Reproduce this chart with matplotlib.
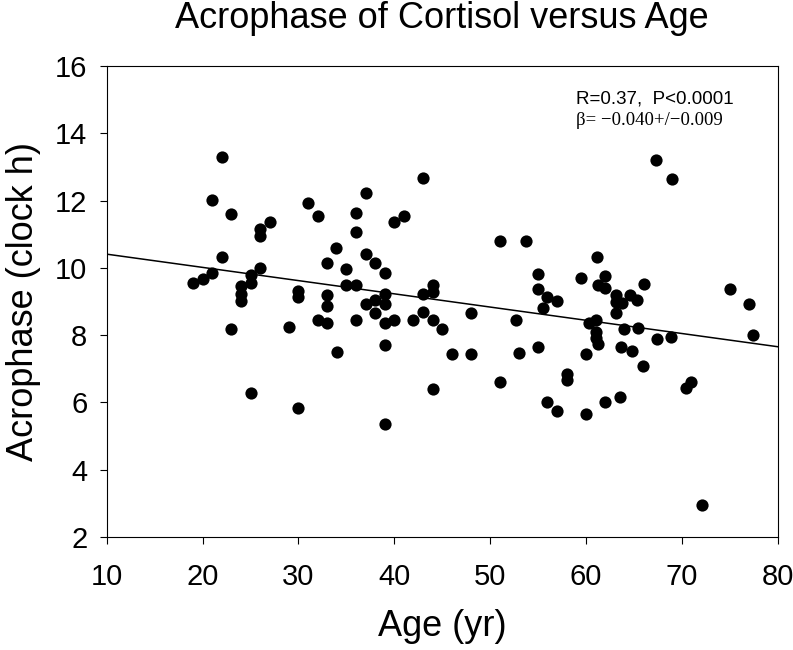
import numpy as np
import matplotlib
matplotlib.use('Agg')
import matplotlib.pyplot as plt

# data
age = [22.0, 21.0, 23.0, 27.0, 26.0, 26.0, 31.0, 32.0, 33.9, 22.0,
       33.0, 21.0, 20.0, 19.0, 26.0, 25.0, 25.0, 24.0, 24.0, 24.0,
       30.0, 30.0, 33.0, 33.0, 32.0, 33.0, 23.0, 29.0,
       34.0, 25.0, 30.0,
       43.0, 37.0, 36.0, 41.0, 40.0, 36.0, 37.0, 35.0, 38.0, 39.0,
       51.0, 53.7, 55.0, 55.0, 55.9, 55.5, 35.0, 36.0, 36.0, 37.0,
       38.0, 39.0, 39.0, 38.0, 39.0, 40.0, 42.0, 43.0, 44.0, 44.0,
       43.0, 44.0, 45.0, 48.0, 52.7,
       39.0, 46.0, 48.0, 53.0, 55.0, 44.0, 51.0, 55.9, 39.0,
       67.3, 69.0, 61.2, 59.5, 62.0, 61.3, 62.0, 66.0, 63.1, 64.6,
       63.1, 63.8, 65.3, 63.1, 57.0, 60.3, 61.0, 61.0, 61.0, 64.0,
       65.4, 75.0, 77.0, 77.4, 67.4, 68.9,
       61.3, 60.0, 63.7, 64.8, 65.9, 58.0, 58.0, 71.0, 70.4, 57.0,
       60.0, 62.0, 63.5, 72.1]
acro = [13.29, 12.01, 11.60, 11.35, 11.15, 10.95, 11.94, 11.54, 10.60, 10.31,
        10.13, 9.84, 9.66, 9.56, 10.00, 9.79, 9.54, 9.47, 9.22, 9.01,
        9.32, 9.12, 9.19, 8.87, 8.45, 8.37, 8.17, 8.25,
        7.51, 6.29, 5.84,
        12.66, 12.23, 11.64, 11.54, 11.37, 11.07, 10.41, 9.96, 10.13, 9.86,
        10.81, 10.81, 9.82, 9.37, 9.12, 8.80, 9.49, 9.49, 8.45, 8.93,
        9.04, 9.22, 8.93, 8.65, 8.37, 8.45, 8.45, 9.22, 9.49, 9.29,
        8.70, 8.45, 8.17, 8.65, 8.45,
        7.71, 7.43, 7.43, 7.46, 7.66, 6.39, 6.61, 6.02, 5.36,
        13.20, 12.63, 10.33, 9.69, 9.76, 9.49, 9.39, 9.51, 9.19, 9.19,
        8.99, 8.95, 9.04, 8.65, 9.02, 8.37, 8.45, 8.10, 7.91, 8.18,
        8.20, 9.37, 8.93, 8.00, 7.88, 7.95,
        7.74, 7.44, 7.66, 7.54, 7.08, 6.86, 6.67, 6.62, 6.42, 5.75,
        5.65, 6.02, 6.15, 2.94]

intercept = 10.80
slope = -0.0393
xticks = [10, 20, 30, 40, 50, 60, 70, 80]
yticks = [2, 4, 6, 8, 10, 12, 14, 16]

plt.rcParams['font.family'] = ['Liberation Sans', 'DejaVu Sans']

fig = plt.figure(figsize=(7.93, 6.5), dpi=100)
ax = fig.add_axes([0.1346, 0.1738, 0.8461, 0.7247])

ax.plot(age, acro, 'o', color='black', markersize=8.8, markeredgewidth=0)
xl = np.array([10, 80])
ax.plot(xl, intercept + slope * xl, color='black', lw=1.1)

ax.set_xlim(10, 80)
ax.set_ylim(2, 16)
ax.set_xticks(xticks)
ax.set_yticks(yticks)
ax.tick_params(axis='both', direction='out', length=5, width=0.8, labelsize=21)
ax.tick_params(axis='x', pad=14)
ax.tick_params(axis='y', pad=9)
for s in ax.spines.values():
    s.set_linewidth(0.8)

ax.set_xlabel('Age (yr)', fontsize=26, labelpad=13)
ax.set_ylabel('Acrophase (clock h)', fontsize=26, labelpad=10)
fig.text(0.557, 0.972, 'Acrophase of Cortisol versus Age', fontsize=26,
         ha='center', va='center')

ax.text(0.7, 0.930, 'R=0.37,  P<0.0001', transform=ax.transAxes,
        fontsize=13.5, ha='left', va='center')
ax.text(0.7, 0.885, '\u03b2= \u22120.040+/\u22120.009', transform=ax.transAxes,
        fontsize=13.5, ha='left', va='center', family='Liberation Serif')

fig.savefig('out.png', dpi=100)
